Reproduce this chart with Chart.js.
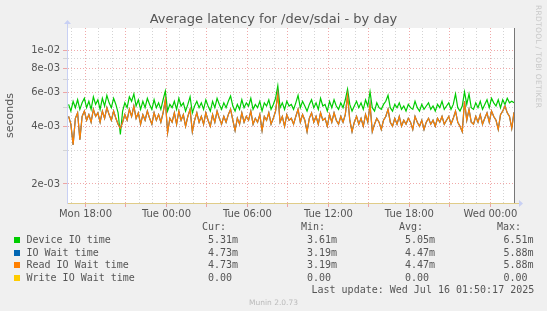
<!DOCTYPE html>
<html>
<head>
<meta charset="utf-8">
<script src="https://cdn.jsdelivr.net/npm/chart.js@4/dist/chart.umd.min.js"></script>
<style>
  body { margin: 0; background: #f0f0f0; width: 547px; height: 311px; overflow: hidden; position: relative; font-family: "DejaVu Sans", sans-serif; color: #555; }
  #chart { position: absolute; left: 0; top: 0; }
  .abs { position: absolute; white-space: pre; }
  .mono { font: 10px "DejaVu Sans Mono", monospace; line-height: 12px; color: #555; }
  #title { left: 0; width: 547px; text-align: center; top: 11px; font-size: 13px; color: #555; }
  #rrd { left: 534px; top: 5px; writing-mode: vertical-rl; font-size: 7.5px; color: #c8c8c8; letter-spacing: 0.3px; }
  #munin { left: 0; width: 547px; text-align: center; top: 298px; font-size: 7.5px; color: #bbb; }
  .sq { position: absolute; width: 6px; height: 6px; }
</style>
</head>
<body>
<canvas id="chart" width="547" height="222"></canvas>
<div id="title" class="abs">Average latency for /dev/sdai - by day</div>
<div id="rrd" class="abs">RRDTOOL / TOBI OETIKER</div>
<div id="legend"></div>
<div id="munin" class="abs">Munin 2.0.73</div>
<script>
// time axis: hours counted from Monday 00:00, one sample every 10 minutes
const startHour = 16.75;
const stepHours = 1 / 6;
const axisMin = 16.63;
const axisMax = 49.75;
const tickHours = [18, 24, 30, 36, 42, 48];
const tickNames = ['Mon 18:00', 'Tue 00:00', 'Tue 06:00', 'Tue 12:00', 'Tue 18:00', 'Wed 00:00'];

// y ticks (seconds)
const yGridValues = [0.002, 0.003, 0.004, 0.005, 0.006, 0.007, 0.008, 0.009, 0.01];
const yLabelled = [0.002, 0.004, 0.006, 0.008, 0.01];

// values in milliseconds
const deviceIo = [
  5.2, 4.8, 5.4, 5.0, 5.5, 4.9, 5.3, 5.6, 5.0, 5.4,
  4.9, 5.7, 5.2, 5.5, 4.9, 5.6, 5.1, 5.8, 5.3, 5.0,
  5.6, 5.2, 4.7, 3.62, 4.8, 5.3, 5.0, 5.7, 5.4, 5.9,
  5.1, 5.5, 4.9, 5.4, 5.0, 5.6, 5.2, 4.9, 5.5, 5.0,
  5.3, 4.9, 5.5, 6.1, 4.8, 5.2, 5.0, 5.4, 4.9, 5.6,
  5.1, 5.3, 4.8, 5.2, 5.7, 4.7, 5.1, 5.4, 5.0, 5.3,
  4.9, 5.5, 5.1, 4.8, 5.4, 5.0, 5.6, 5.2, 4.9, 5.3,
  5.0, 5.4, 5.75, 5.1, 4.8, 5.2, 4.9, 5.5, 5.0, 5.3,
  5.1, 5.6, 4.9, 5.2, 5.0, 5.4, 4.8, 5.3, 5.1, 5.5,
  4.9, 5.2, 5.6, 6.51, 5.0, 5.3, 4.9, 5.4, 5.1, 5.2,
  4.9, 5.3, 5.8, 5.0, 5.4, 5.1, 4.8, 5.2, 5.5, 5.0,
  5.3, 4.9, 5.6, 5.1, 5.2, 4.8, 5.4, 5.0, 5.5, 5.1,
  4.9, 5.3, 5.0, 5.5, 6.25, 5.2, 4.8, 5.1, 5.4, 5.0,
  5.3, 4.9, 5.5, 5.1, 6.05, 5.0, 4.8, 5.3, 5.0, 4.9,
  5.2, 5.4, 5.8, 5.0, 4.8, 5.2, 5.0, 5.3, 4.9, 5.1,
  4.8, 5.2, 5.0, 4.9, 5.4, 5.0, 4.8, 5.2, 4.9, 5.1,
  5.3, 4.9, 5.1, 4.8, 5.2, 5.0, 5.4, 4.9, 5.1, 5.3,
  4.9, 5.2, 5.9, 5.0, 4.8, 5.1, 6.05, 5.2, 5.9, 5.0,
  4.9, 5.3, 5.0, 5.4, 4.9, 5.2, 5.5, 5.0, 5.6, 5.3,
  5.1, 5.5, 5.0, 5.5, 5.2, 5.6, 5.3, 5.4, 5.31
];
const readWait = [
  4.5, 4.1, 3.2, 4.4, 4.7, 3.4, 4.5, 4.8, 4.3, 4.6,
  4.2, 4.9, 4.5, 4.7, 4.2, 4.8, 4.4, 5.0, 4.6, 4.3,
  4.8, 4.4, 4.1, 3.9, 4.2, 4.6, 4.3, 4.9, 4.5, 5.1,
  4.4, 4.7, 4.1, 4.6, 4.3, 4.8, 4.4, 4.1, 4.7, 4.3,
  4.6, 4.2, 4.7, 5.5, 3.7, 4.4, 4.2, 4.7, 4.1, 4.8,
  4.3, 4.6, 4.0, 4.5, 4.9, 3.75, 4.3, 4.7, 4.2, 4.5,
  4.1, 4.7, 4.3, 4.0, 4.6, 4.2, 4.8, 4.4, 4.1, 4.5,
  4.2, 4.6, 4.9, 4.3, 3.8, 4.4, 4.1, 4.7, 4.2, 4.5,
  4.3, 4.8, 4.1, 4.4, 4.2, 4.6, 3.8, 4.5, 4.3, 4.7,
  4.1, 4.4, 4.8, 5.88, 4.2, 4.5, 4.0, 4.6, 4.3, 4.4,
  4.1, 4.5, 4.9, 4.2, 4.6, 4.3, 3.75, 4.4, 4.7, 4.2,
  4.5, 4.1, 4.7, 4.3, 4.4, 4.0, 4.6, 4.2, 4.7, 4.3,
  4.1, 4.5, 4.2, 4.6, 5.8, 4.3, 3.75, 4.2, 4.5, 4.1,
  4.4, 4.0, 4.6, 4.2, 5.2, 3.75, 4.1, 4.4, 4.2, 3.85,
  4.3, 4.5, 4.9, 4.2, 4.0, 4.4, 4.1, 4.5, 4.0, 4.3,
  4.1, 4.4, 4.2, 3.85, 4.5, 4.2, 4.0, 4.3, 3.85, 4.2,
  4.4, 4.1, 4.3, 4.0, 4.4, 4.2, 4.5, 4.1, 4.3, 4.5,
  4.1, 4.4, 4.8, 4.2, 4.0, 3.75, 5.4, 4.3, 4.9, 4.2,
  4.1, 4.5, 4.2, 4.6, 4.1, 4.4, 4.7, 4.2, 4.8, 4.5,
  4.3, 3.85, 4.6, 4.8, 5.1, 4.7, 4.5, 3.9, 4.73
];
// IO wait time equals read wait time (write wait is zero)
const ioWait = readWait;

// legend table
const seriesNames = ['Device IO time', 'IO Wait time', 'Read IO Wait time', 'Write IO Wait time'];
const seriesColors = ['#00cc00', '#0066b3', '#ff8000', '#ffcc00'];
const curValues = ['5.31m', '4.73m', '4.73m', '0.00'];
const minValues = ['3.61m', '3.19m', '3.19m', '0.00'];
const avgValues = ['5.05m', '4.47m', '4.47m', '0.00'];
const maxValues = ['6.51m', '5.88m', '5.88m', '0.00'];

function toPoints(arr) {
  return arr.map((v, i) => ({ x: startHour + i * stepHours, y: v / 1000 }));
}

function expLabel(v) {
  return v.toExponential(0).replace(/e-(\d)$/, 'e-0$1');
}

function isLabelled(v) {
  return yLabelled.some(l => Math.abs(l - v) < 1e-9);
}

const majorGrid = 'rgba(235,140,140,0.75)';
const minorGrid = '#d4d4d4';

const decor = {
  id: 'decor',
  beforeDraw(chart) {
    const a = chart.chartArea, c = chart.ctx;
    c.save();
    c.fillStyle = '#ffffff';
    c.fillRect(a.left, a.top, a.right - a.left, a.bottom - a.top);
    c.restore();
  },
  afterDraw(chart) {
    const a = chart.chartArea, c = chart.ctx;
    c.save();
    // right edge line
    c.strokeStyle = '#777';
    c.lineWidth = 1;
    c.beginPath();
    c.moveTo(a.right + 0.5, a.top);
    c.lineTo(a.right + 0.5, a.bottom);
    c.stroke();
    // axis arrows
    c.fillStyle = '#c8d0f4';
    c.strokeStyle = '#c8d0f4';
    c.beginPath();
    c.moveTo(a.left + 0.5, a.top);
    c.lineTo(a.left + 0.5, a.top - 5);
    c.stroke();
    c.beginPath();
    c.moveTo(a.left - 3, a.top - 4);
    c.lineTo(a.left + 4, a.top - 4);
    c.lineTo(a.left + 0.5, a.top - 8);
    c.fill();
    c.strokeStyle = '#e0cc88';
    c.beginPath();
    c.moveTo(a.right, a.bottom + 0.5);
    c.lineTo(a.right + 5, a.bottom + 0.5);
    c.stroke();
    c.beginPath();
    c.moveTo(a.right + 5, a.bottom - 3);
    c.lineTo(a.right + 5, a.bottom + 4);
    c.lineTo(a.right + 9, a.bottom + 0.5);
    c.fill();
    c.restore();
  }
};

const ctx = document.getElementById('chart').getContext('2d');
const latencyChart = new Chart(ctx, {
  type: 'line',
  data: {
    datasets: [
      { label: seriesNames[2], data: toPoints(readWait), borderColor: seriesColors[2], borderWidth: 1.2, order: 1 },
      { label: seriesNames[1], data: toPoints(ioWait), borderColor: seriesColors[1], borderWidth: 1.2, order: 2 },
      { label: seriesNames[0], data: toPoints(deviceIo), borderColor: seriesColors[0], borderWidth: 1.2, order: 3 }
    ]
  },
  options: {
    responsive: false,
    animation: false,
    devicePixelRatio: 1,
    elements: { point: { radius: 0 }, line: { tension: 0 } },
    layout: { padding: { top: 28, right: 33, left: 0, bottom: 0 } },
    plugins: { legend: { display: false }, tooltip: { enabled: false } },
    scales: {
      x: {
        type: 'linear',
        min: axisMin,
        max: axisMax,
        afterBuildTicks: scale => { scale.ticks = []; for (let h = 17; h <= 49; h++) scale.ticks.push({ value: h }); },
        afterFit: scale => { scale.height = 19; },
        ticks: {
          autoSkip: false,
          maxRotation: 0,
          padding: 1,
          color: '#555',
          font: { family: 'DejaVu Sans', size: 10 },
          callback: v => { const k = tickHours.indexOf(v); return k >= 0 ? tickNames[k] : ''; }
        },
        grid: {
          color: c => (c.tick && c.tick.value % 3 === 0) ? majorGrid : minorGrid,
          tickColor: c => (c.tick && c.tick.value % 3 === 0) ? majorGrid : 'rgba(0,0,0,0)',
          tickLength: 4,
          lineWidth: 1
        },
        border: { color: '#e0cc88', dash: [1, 2] }
      },
      y: {
        type: 'logarithmic',
        min: 0.00159,
        max: 0.01303,
        afterBuildTicks: scale => { scale.ticks = yGridValues.map(v => ({ value: v })); },
        afterFit: scale => { scale.width = 67; },
        ticks: {
          autoSkip: false,
          padding: 3,
          color: '#555',
          font: { family: 'DejaVu Sans', size: 10 },
          callback: v => isLabelled(v) ? expLabel(v) : ''
        },
        grid: {
          color: c => (c.tick && isLabelled(c.tick.value)) ? majorGrid : minorGrid,
          tickColor: c => (c.tick && isLabelled(c.tick.value)) ? majorGrid : minorGrid,
          tickLength: 4,
          lineWidth: 1
        },
        border: { color: '#c8d0f4', dash: [1, 2] },
        title: {
          display: true,
          text: 'seconds',
          color: '#555',
          font: { family: 'DejaVu Sans', size: 11 }
        }
      }
    }
  },
  plugins: [decor]
});

// legend block under the chart
const legend = document.getElementById('legend');
const colStarts = [208, 307, 405, 503.5];
const headStarts = [202, 301, 399, 497];
const heads = ['Cur:', 'Min:', 'Avg:', 'Max:'];
let html = '';
heads.forEach((h, i) => {
  html += `<div class="abs mono" style="left:${headStarts[i]}px;top:221px">${h}</div>`;
});
const rowTops = [234, 246.5, 259, 271.5];
seriesNames.forEach((name, r) => {
  const top = rowTops[r];
  html += `<div class="sq" style="left:14px;top:${top + 3}px;background:${seriesColors[r]}"></div>`;
  html += `<div class="abs mono" style="left:26.5px;top:${top}px">${name}</div>`;
  [curValues, minValues, avgValues, maxValues].forEach((col, c) => {
    html += `<div class="abs mono" style="left:${colStarts[c]}px;top:${top}px">${col[r]}</div>`;
  });
});
html += `<div class="abs mono" style="left:311.5px;top:284px">Last update: Wed Jul 16 01:50:17 2025</div>`;
legend.innerHTML = html;
</script>
</body>
</html>
